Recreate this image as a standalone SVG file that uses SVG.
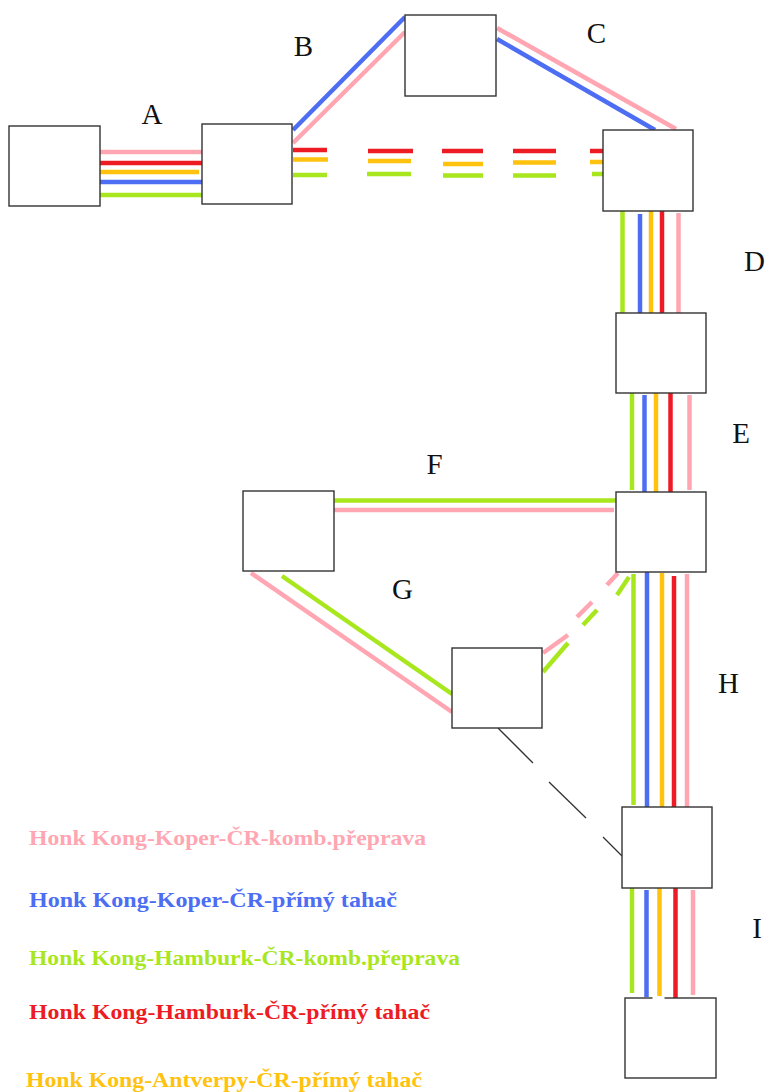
<svg xmlns="http://www.w3.org/2000/svg" width="767" height="1092" viewBox="0 0 767 1092">
<style>
.box{fill:#fff;stroke:#333;stroke-width:1.4}
.ln{fill:none;stroke-width:4.5;stroke-linecap:butt}
.pk{stroke:#ffa6b2}.rd{stroke:#ed1c24}.or{stroke:#ffc20e}.bl{stroke:#4d6df3}.gr{stroke:#a8e61d}
.lbl{font-family:"Liberation Serif","Times New Roman",serif;font-size:29px;fill:#111;text-anchor:middle}
.leg{font-family:"Liberation Serif","Times New Roman",serif;font-size:21px;font-weight:bold}
</style>
<rect width="767" height="1092" fill="#fff"/>
<g id="connectors">
  <!-- A -->
  <line class="ln pk" x1="100" y1="152" x2="203" y2="152"/>
  <line class="ln rd" x1="97" y1="163" x2="203" y2="163"/>
  <line class="ln or" x1="99" y1="172" x2="199" y2="172"/>
  <line class="ln bl" x1="97" y1="182" x2="203" y2="182"/>
  <line class="ln gr" x1="96" y1="195" x2="203" y2="195"/>
  <!-- B -->
  <line class="ln bl" x1="293" y1="130" x2="405" y2="17"/>
  <line class="ln pk" x1="293" y1="143" x2="405" y2="32"/>
  <!-- C -->
  <line class="ln pk" x1="497" y1="28" x2="676" y2="129"/>
  <line class="ln bl" x1="497" y1="39" x2="655" y2="130"/>
  <!-- dashed A-right to C-right -->
  <g class="ln rd">
    <line x1="293" y1="150" x2="327" y2="150"/><line x1="368" y1="151" x2="413" y2="151"/><line x1="442" y1="151" x2="483" y2="151"/><line x1="513" y1="151" x2="556" y2="151"/><line x1="590" y1="151" x2="603" y2="151"/>
  </g>
  <g class="ln or">
    <line x1="293" y1="159.5" x2="328" y2="159.5"/><line x1="368" y1="161" x2="411" y2="161"/><line x1="443" y1="164" x2="483" y2="164"/><line x1="513" y1="162.5" x2="556" y2="162.5"/><line x1="590" y1="162" x2="603" y2="162"/>
  </g>
  <g class="ln gr">
    <line x1="293" y1="175" x2="327" y2="175"/><line x1="367" y1="174" x2="411" y2="174"/><line x1="443" y1="175.5" x2="483" y2="175.5"/><line x1="513" y1="175.5" x2="556" y2="175.5"/><line x1="592" y1="174" x2="603" y2="174"/>
  </g>
  <!-- D -->
  <line class="ln gr" x1="622.5" y1="211" x2="622.5" y2="313"/>
  <line class="ln bl" x1="640" y1="214" x2="640" y2="313"/>
  <line class="ln or" x1="651" y1="211" x2="651" y2="313"/>
  <line class="ln rd" x1="662" y1="211" x2="662" y2="313"/>
  <line class="ln pk" x1="678.5" y1="213" x2="678.5" y2="313"/>
  <!-- E -->
  <line class="ln gr" x1="632" y1="393" x2="632" y2="490"/>
  <line class="ln bl" x1="644.5" y1="395" x2="644.5" y2="492"/>
  <line class="ln or" x1="656" y1="393" x2="656" y2="492"/>
  <line class="ln rd" x1="670.5" y1="393" x2="670.5" y2="492"/>
  <line class="ln pk" x1="689.5" y1="395" x2="689.5" y2="490"/>
  <!-- F -->
  <line class="ln gr" x1="332" y1="500.5" x2="616" y2="500.5"/>
  <line class="ln pk" x1="334" y1="510" x2="614" y2="510"/>
  <!-- G -->
  <line class="ln pk" x1="251" y1="573" x2="452" y2="712"/>
  <line class="ln gr" x1="282" y1="576" x2="452" y2="694"/>
  <!-- dashed G to E -->
  <g class="ln pk">
    <line x1="543" y1="653" x2="568" y2="635"/><line x1="577" y1="617" x2="592" y2="602"/><line x1="607" y1="585" x2="618" y2="573"/>
  </g>
  <g class="ln gr">
    <line x1="543" y1="672" x2="568" y2="643"/><line x1="583" y1="625" x2="597" y2="610"/><line x1="617" y1="595" x2="629" y2="577"/>
  </g>
  <!-- H -->
  <line class="ln gr" x1="633.5" y1="574" x2="633.5" y2="805"/>
  <line class="ln bl" x1="647" y1="572" x2="647" y2="807"/>
  <line class="ln or" x1="662" y1="573" x2="662" y2="807"/>
  <line class="ln rd" x1="674" y1="576" x2="674" y2="807"/>
  <line class="ln pk" x1="687" y1="574" x2="687" y2="807"/>
  <!-- I -->
  <line class="ln gr" x1="632" y1="887" x2="632" y2="993"/>
  <line class="ln bl" x1="646.5" y1="890" x2="646.5" y2="997"/>
  <line class="ln or" x1="659.5" y1="888" x2="659.5" y2="996"/>
  <line class="ln rd" x1="675.5" y1="888" x2="675.5" y2="998"/>
  <line class="ln pk" x1="693" y1="890" x2="693" y2="995"/>
  <!-- thin black dashed -->
  <g stroke="#333" stroke-width="1.3" fill="none">
    <line x1="498" y1="728" x2="533" y2="763"/><line x1="549" y1="782" x2="586" y2="818"/><line x1="603" y1="837" x2="622" y2="856"/>
  </g>
</g>
<g id="nodeA1"><rect class="box" x="9" y="126" width="91" height="80"/></g>
<g id="nodeA2"><rect class="box" x="202" y="124" width="90" height="80"/></g>
<g id="nodeB"><rect class="box" x="405" y="15" width="91" height="81"/></g>
<g id="nodeC"><rect class="box" x="603" y="130" width="90" height="81"/></g>
<g id="nodeD"><rect class="box" x="616" y="313" width="90" height="80"/></g>
<g id="nodeE"><rect class="box" x="616" y="492" width="90" height="80"/></g>
<g id="nodeF"><rect class="box" x="243" y="491" width="91" height="80"/></g>
<g id="nodeG"><rect class="box" x="452" y="648" width="90" height="80"/></g>
<g id="nodeH"><rect class="box" x="622" y="807" width="90" height="81"/></g>
<g id="nodeI"><rect class="box" x="625" y="998" width="91" height="80"/><line x1="652.5" y1="998" x2="664.5" y2="998" stroke="#fff" stroke-width="2.5"/></g>
<g id="labels">
  <text class="lbl" x="152" y="124">A</text>
  <text class="lbl" x="303.5" y="56">B</text>
  <text class="lbl" x="596.5" y="43">C</text>
  <text class="lbl" x="754.5" y="271">D</text>
  <text class="lbl" x="741" y="443">E</text>
  <text class="lbl" x="434.5" y="474">F</text>
  <text class="lbl" x="402.5" y="599">G</text>
  <text class="lbl" x="728.5" y="693">H</text>
  <text class="lbl" x="757" y="938">I</text>
</g>
<g id="legend">
  <text class="leg" x="29" y="845" fill="#ffa6b2" textLength="397" lengthAdjust="spacingAndGlyphs">Honk Kong-Koper-ČR-komb.přeprava</text>
  <text class="leg" x="29" y="907" fill="#4d6df3" textLength="368" lengthAdjust="spacingAndGlyphs">Honk Kong-Koper-ČR-přímý tahač</text>
  <text class="leg" x="29" y="965" fill="#a8e61d" textLength="431" lengthAdjust="spacingAndGlyphs">Honk Kong-Hamburk-ČR-komb.přeprava</text>
  <text class="leg" x="29" y="1019" fill="#ed1c24" textLength="401" lengthAdjust="spacingAndGlyphs">Honk Kong-Hamburk-ČR-přímý tahač</text>
  <text class="leg" x="26" y="1087" fill="#ffc20e" textLength="396" lengthAdjust="spacingAndGlyphs">Honk Kong-Antverpy-ČR-přímý tahač</text>
</g>
</svg>
